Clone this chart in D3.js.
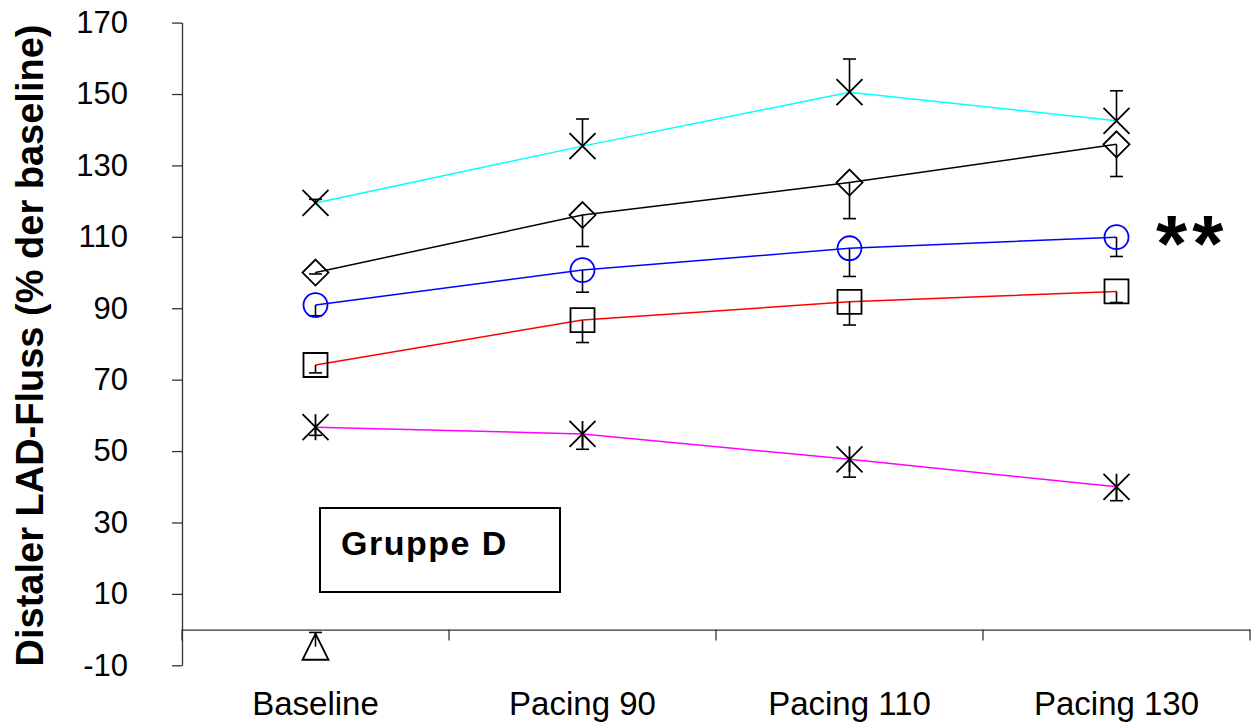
<!DOCTYPE html>
<html>
<head>
<meta charset="utf-8">
<script src="https://cdn.jsdelivr.net/npm/d3@7"></script>
<style>
  body { margin: 0; background: #fff; }
  text { font-family: "Liberation Sans", Arial, sans-serif; }
</style>
</head>
<body>
<div id="chart"></div>
<script>
// data
const categories = ["Baseline", "Pacing 90", "Pacing 110", "Pacing 130"];
const yTicks = [-10, 10, 30, 50, 70, 90, 110, 130, 150, 170];

const cyanValues = [119.5, 135.4, 150.5, 142.5];
const cyanErrors = [1.0, 7.6, 9.3, 8.4];        // drawn upwards
const diamondValues = [100.0, 116.1, 125.2, 135.9];
const diamondErrors = [0.4, 8.8, 10.1, 9.0];    // drawn downwards
const circleValues = [90.9, 100.7, 106.8, 109.9];
const circleErrors = [3.0, 6.2, 7.9, 5.4];
const squareValues = [74.1, 86.7, 91.8, 94.7];
const squareErrors = [2.2, 6.3, 6.5, 3.1];
const starValues = [56.7, 54.8, 47.7, 40.0];
const starErrors = [2.3, 4.3, 5.0, 3.9];
const triangleValues = [-4.8];
const triangleErrors = [4.0];                   // drawn upwards

const series = [
  {name: "cyan", values: cyanValues, errors: cyanErrors, dir: 1, line: "#00ffff", marker: "x", mcolor: "#000"},
  {name: "diamond", values: diamondValues, errors: diamondErrors, dir: -1, line: "#000000", marker: "diamond", mcolor: "#000"},
  {name: "circle", values: circleValues, errors: circleErrors, dir: -1, line: "#0000ff", marker: "circle", mcolor: "#0000ff"},
  {name: "square", values: squareValues, errors: squareErrors, dir: -1, line: "#ff0000", marker: "square", mcolor: "#000"},
  {name: "star", values: starValues, errors: starErrors, dir: -1, line: "#ff00ff", marker: "star", mcolor: "#000"},
  {name: "triangle", values: triangleValues, errors: triangleErrors, dir: 1, line: "#000000", marker: "triangle", mcolor: "#000"}
];

const width = 1258, height = 724;

const svg = d3.select("#chart")
  .append("svg")
  .attr("width", width)
  .attr("height", height);

const x = d3.scaleBand()
  .domain(categories)
  .range([182, 1250])
  .paddingInner(0)
  .paddingOuter(0);

const y = d3.scaleLinear()
  .domain([-10, 170])
  .range([665.3, 22.6]);

// y axis
const yAxis = svg.append("g")
  .attr("transform", "translate(182,0)")
  .call(d3.axisLeft(y).tickValues(yTicks).tickFormat(d => String(d))
    .tickSizeInner(10).tickSizeOuter(0).tickPadding(44));
yAxis.select(".domain").attr("stroke", "#333").attr("stroke-width", 1.3);
yAxis.selectAll(".tick line").attr("stroke", "#333").attr("stroke-width", 1.3);
yAxis.selectAll(".tick text")
  .attr("font-size", 31)
  .attr("fill", "#000")
  .attr("font-family", "Liberation Sans, Arial, sans-serif");

// x axis at zero
const xAxis = svg.append("g")
  .attr("transform", `translate(0,${y(0)})`)
  .call(d3.axisBottom(x).tickSize(0).tickPadding(62));
xAxis.select(".domain").attr("stroke", "#333").attr("stroke-width", 1.3);
xAxis.selectAll(".tick text")
  .attr("font-size", 33)
  .attr("fill", "#000")
  .attr("font-family", "Liberation Sans, Arial, sans-serif");

// x tick marks on the band boundaries
const bounds = categories.map(c => x(c)).concat([x(categories[categories.length - 1]) + x.bandwidth()]);
xAxis.selectAll(".bound")
  .data(bounds)
  .join("line")
  .attr("x1", d => d).attr("x2", d => d)
  .attr("y1", 0).attr("y2", 11)
  .attr("stroke", "#333").attr("stroke-width", 1.3);

// y axis title
svg.append("text")
  .attr("transform", `translate(43,${(24 + 667) / 2}) rotate(-90)`)
  .attr("text-anchor", "middle")
  .attr("font-size", 38)
  .attr("font-weight", "bold")
  .text("Distaler LAD-Fluss (% der baseline)");

const cx = i => x(categories[i]) + x.bandwidth() / 2;

// lines
const line = d3.line()
  .x((d, i) => cx(i))
  .y(d => y(d));

svg.selectAll(".series-line")
  .data(series.filter(s => s.values.length > 1))
  .join("path")
  .attr("class", "series-line")
  .attr("d", s => line(s.values))
  .attr("fill", "none")
  .attr("stroke", s => s.line)
  .attr("stroke-width", 1.5);

// error bars
const errData = series.flatMap(s => s.values.map((v, i) => ({i, v, e: s.errors[i], dir: s.dir})));
const errG = svg.selectAll(".err")
  .data(errData)
  .join("g")
  .attr("class", "err");
errG.append("line")
  .attr("x1", d => cx(d.i)).attr("x2", d => cx(d.i))
  .attr("y1", d => y(d.v)).attr("y2", d => y(d.v + d.dir * d.e))
  .attr("stroke", "#000").attr("stroke-width", 1.6);
errG.append("line")
  .attr("x1", d => cx(d.i) - 6.5).attr("x2", d => cx(d.i) + 6.5)
  .attr("y1", d => y(d.v + d.dir * d.e)).attr("y2", d => y(d.v + d.dir * d.e))
  .attr("stroke", "#000").attr("stroke-width", 1.6);

// markers
function markerPath(type) {
  const p = d3.path();
  const h = 13;
  if (type === "x") {
    p.moveTo(-h, -h); p.lineTo(h, h);
    p.moveTo(-h, h); p.lineTo(h, -h);
  } else if (type === "star") {
    p.moveTo(-h, -h); p.lineTo(h, h);
    p.moveTo(-h, h); p.lineTo(h, -h);
    p.moveTo(0, -h); p.lineTo(0, h);
  } else if (type === "diamond") {
    p.moveTo(0, -h); p.lineTo(h, 0); p.lineTo(0, h); p.lineTo(-h, 0); p.closePath();
  } else if (type === "square") {
    p.rect(-12, -12, 24, 24);
  } else if (type === "triangle") {
    p.moveTo(0, -h); p.lineTo(h, h); p.lineTo(-h, h); p.closePath();
  } else if (type === "circle") {
    p.arc(0, 0, 12, 0, 2 * Math.PI);
  }
  return p.toString();
}

const markData = series.flatMap(s => s.values.map((v, i) => ({i, v, marker: s.marker, color: s.mcolor})));
svg.selectAll(".marker")
  .data(markData)
  .join("path")
  .attr("class", "marker")
  .attr("transform", d => `translate(${cx(d.i)},${y(d.v)})`)
  .attr("d", d => markerPath(d.marker))
  .attr("fill", "none")
  .attr("stroke", d => d.color)
  .attr("stroke-width", 1.8);

// group label box
svg.append("rect")
  .attr("x", 320).attr("y", 508)
  .attr("width", 240).attr("height", 84)
  .attr("fill", "#fff")
  .attr("stroke", "#000")
  .attr("stroke-width", 2);
svg.append("text")
  .attr("x", 341).attr("y", 555)
  .attr("font-size", 34)
  .attr("letter-spacing", 1.5)
  .attr("font-weight", "bold")
  .text("Gruppe D");

// significance mark
svg.append("text")
  .attr("x", 1156).attr("y", 271)
  .attr("font-size", 80)
  .attr("letter-spacing", 5)
  .attr("font-weight", "bold")
  .text("**");
</script>
</body>
</html>
